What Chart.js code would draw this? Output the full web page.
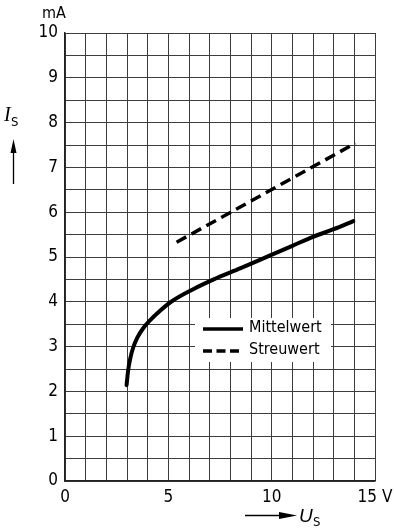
<!DOCTYPE html>
<html>
<head>
<meta charset="utf-8">
<script src="https://cdn.jsdelivr.net/npm/chart.js@4.4.1/dist/chart.umd.min.js"></script>
<style>
  html, body { margin: 0; padding: 0; background: #fff; }
  #wrap { width: 394px; height: 528px; }
</style>
</head>
<body>
<div id="wrap"><canvas id="c" width="394" height="528"></canvas></div>
<script>
// Supply voltage U_S (V) and current I_S (mA)
const meanU = [2.98, 3.05, 3.15, 3.3, 3.5, 3.8, 4.1, 4.6, 5.1, 6.2, 7.2, 8.5, 9.9, 11, 12, 13, 13.95];
const meanI = [2.14, 2.45, 2.72, 2.98, 3.2, 3.42, 3.58, 3.8, 3.99, 4.28, 4.5, 4.75, 5.03, 5.25, 5.45, 5.62, 5.8];
const spreadU = [5.4, 14.05];
const spreadI = [5.33, 7.54];

const seriesNames = ['Mittelwert', 'Streuwert'];

// Axis labels: grid every 1 V / 0.5 mA, numbers only at these values
const xLabelValues = [0, 5, 10, 15];
const xLabelTexts = ['0', '5', '10', '15 V'];
const yLabelValues = [0, 1, 2, 3, 4, 5, 6, 7, 8, 9, 10];
const yLabelTexts = ['0', '1', '2', '3', '4', '5', '6', '7', '8', '9', '10'];

const FONT = '"Liberation Sans Narrow", "DejaVu Sans Condensed", "Liberation Sans", sans-serif';
const GRID = '#3c3c3c';

function pts(xs, ys) { return xs.map((x, i) => ({ x: x, y: ys[i] })); }

// Titles, arrows and the in-plot key
const decorations = {
  id: 'decorations',
  beforeDatasetsDraw(chart) {
    const ctx = chart.ctx;
    // white box for the key, cut out of the grid
    ctx.save();
    ctx.fillStyle = '#fff';
    ctx.fillRect(195, 318, 136, 44);
    ctx.restore();
  },
  afterDraw(chart) {
    const ctx = chart.ctx;
    ctx.save();
    ctx.fillStyle = '#000';
    ctx.strokeStyle = '#000';

    // unit of the y axis
    ctx.font = '16px ' + FONT;
    ctx.textAlign = 'center';
    ctx.textBaseline = 'middle';
    ctx.fillText('mA', 54, 14);

    // I_S with upward arrow
    ctx.textAlign = 'left';
    ctx.textBaseline = 'alphabetic';
    ctx.font = 'italic 20px "Liberation Serif", serif';
    ctx.fillText('I', 4, 121);
    ctx.font = '13px ' + FONT;
    ctx.fillText('S', 11, 126);
    ctx.lineWidth = 1.3;
    ctx.beginPath();
    ctx.moveTo(13.5, 184);
    ctx.lineTo(13.5, 150);
    ctx.stroke();
    ctx.beginPath();
    ctx.moveTo(13.5, 139);
    ctx.lineTo(10.5, 153);
    ctx.lineTo(16.5, 153);
    ctx.closePath();
    ctx.fill();

    // U_S with arrow to the right
    ctx.beginPath();
    ctx.moveTo(245, 515.5);
    ctx.lineTo(285, 515.5);
    ctx.stroke();
    ctx.beginPath();
    ctx.moveTo(297, 515.5);
    ctx.lineTo(279, 512);
    ctx.lineTo(279, 519);
    ctx.closePath();
    ctx.fill();
    ctx.font = 'italic 19px "Liberation Sans", sans-serif';
    ctx.fillText('U', 299, 522);
    ctx.font = '13px ' + FONT;
    ctx.fillText('S', 313, 526);

    // key
    const rows = [{ y: 329, dash: [] , w: 3.5}, { y: 351, dash: [9, 4.5], w: 3.5 }];
    chart.data.datasets.forEach((ds, i) => {
      const r = rows[i];
      ctx.lineWidth = r.w;
      ctx.setLineDash(r.dash);
      ctx.beginPath();
      ctx.moveTo(203, r.y);
      ctx.lineTo(243, r.y);
      ctx.stroke();
      ctx.setLineDash([]);
      ctx.font = '16px ' + FONT;
      ctx.textBaseline = 'middle';
      ctx.fillText(ds.label, 249, r.y - 1);
    });
    ctx.restore();
  }
};

new Chart(document.getElementById('c'), {
  type: 'scatter',
  data: {
    datasets: [
      {
        label: seriesNames[0],
        data: pts(meanU, meanI),
        showLine: true,
        borderColor: '#000',
        borderWidth: 4,
        pointRadius: 0,
        cubicInterpolationMode: 'monotone',
        borderCapStyle: 'round',
        fill: false
      },
      {
        label: seriesNames[1],
        data: pts(spreadU, spreadI),
        showLine: true,
        borderColor: '#000',
        borderWidth: 3.5,
        borderDash: [11, 6],
        pointRadius: 0,
        fill: false
      }
    ]
  },
  options: {
    responsive: false,
    animation: false,
    layout: { padding: { top: 33, right: 19, bottom: 0, left: 0 } },
    plugins: { legend: { display: false }, tooltip: { enabled: false } },
    scales: {
      x: {
        type: 'linear',
        min: 0, max: 15,
        ticks: {
          stepSize: 1,
          autoSkip: false,
          maxRotation: 0,
          padding: 6,
          color: '#000',
          font: { family: FONT, size: 17 },
          callback: (v) => {
            const k = xLabelValues.indexOf(v);
            return k >= 0 ? xLabelTexts[k] : '';
          }
        },
        grid: { color: GRID, lineWidth: 1, drawTicks: false },
        border: { color: '#222', width: 1.5 },
        afterFit: (s) => { s.height = 47; s.paddingLeft = 0; s.paddingRight = 0; }
      },
      y: {
        type: 'linear',
        min: 0, max: 10,
        ticks: {
          stepSize: 0.5,
          autoSkip: false,
          padding: 7,
          color: '#000',
          font: { family: FONT, size: 17 },
          callback: (v) => {
            const k = yLabelValues.indexOf(v);
            return k >= 0 ? yLabelTexts[k] : '';
          }
        },
        grid: { color: GRID, lineWidth: 1, drawTicks: false },
        border: { color: '#222', width: 1.5 },
        afterFit: (s) => { s.width = 65; s.paddingTop = 0; s.paddingBottom = 0; }
      }
    }
  },
  plugins: [decorations]
});
</script>
</body>
</html>
